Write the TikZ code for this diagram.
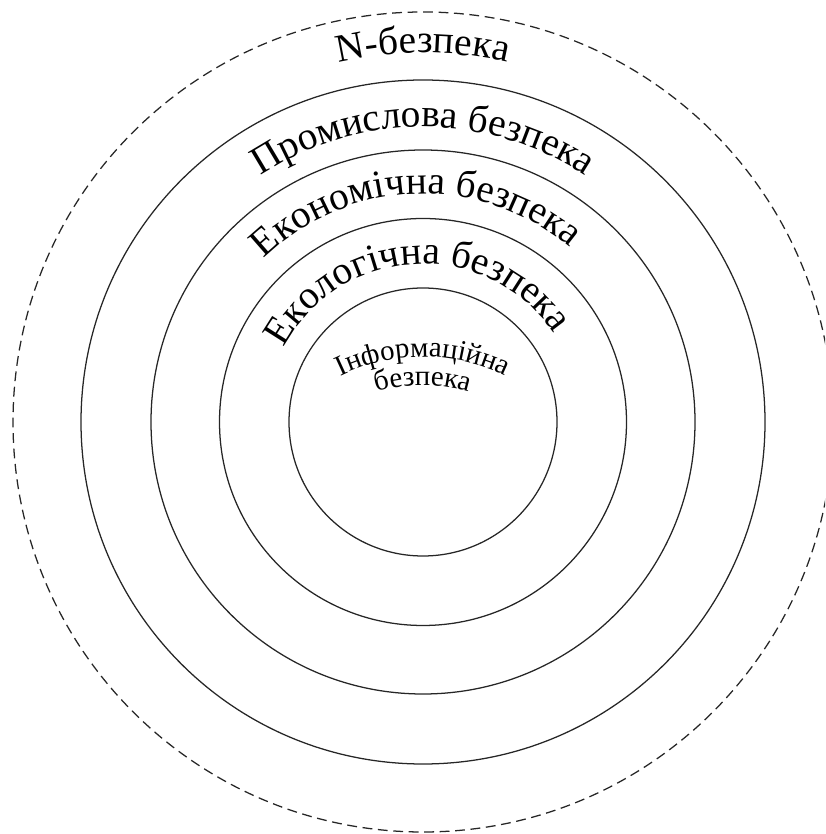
\documentclass[tikz,border=0pt]{standalone}
\usepackage{fontspec}
\setmainfont{Liberation Serif}
\usepackage{tikz}
\usetikzlibrary{decorations.text}

\newcommand{\ringfont}{\fontsize{28}{33}\selectfont}
\newcommand{\corefont}{\fontsize{20.5}{24}\selectfont}

\tikzstyle{ring} = [
    draw=black!85,
    line width=0.9pt
]
\tikzstyle{outerring} = [
    draw=black!85,
    line width=0.9pt,
    dash pattern=on 7pt off 4pt
]
\tikzset{
    ringlabel/.style={
        decorate,
        decoration={text along path, text align=center, text={|\ringfont|#1}}
    },
    corelabel/.style={
        decorate,
        decoration={text along path, text align=center, text={|\corefont|#1}}
    }
}

\begin{document}
\begin{tikzpicture}[x=0.025cm, y=0.025cm]
        \useasboundingbox (0,0) rectangle (825,834);
        \clip (0,0) rectangle (825,834);
        \coordinate (ctr) at (423,412);
        \coordinate (corectr) at (423,290);

        % Rings
        \draw[outerring] (ctr) circle[radius=410];
        \draw[ring] (ctr) circle[radius=342];
        \draw[ring] (ctr) circle[radius=272];
        \draw[ring] (ctr) circle[radius=203.5];
        \draw[ring] (ctr) circle[radius=134];

        % Ring labels
        \path[ringlabel={N-безпека}] ([shift={(160:369)}]ctr) arc[start angle=160, end angle=20, radius=369];
        \path[ringlabel={Промислова безпека}] ([shift={(170:295)}]ctr) arc[start angle=170, end angle=10, radius=295];
        \path[ringlabel={Економічна безпека}] ([shift={(172:228)}]ctr) arc[start angle=172, end angle=12, radius=228];
        \path[ringlabel={Екологічна безпека}] ([shift={(180:158)}]ctr) arc[start angle=180, end angle=6, radius=158];

        % Core label
        \path[corelabel={Інформаційна}] ([shift={(150:187)}]corectr) arc[start angle=150, end angle=30, radius=187];
        \path[corelabel={безпека}] ([shift={(140:159)}]corectr) arc[start angle=140, end angle=40, radius=159];
    \end{tikzpicture}
\end{document}
